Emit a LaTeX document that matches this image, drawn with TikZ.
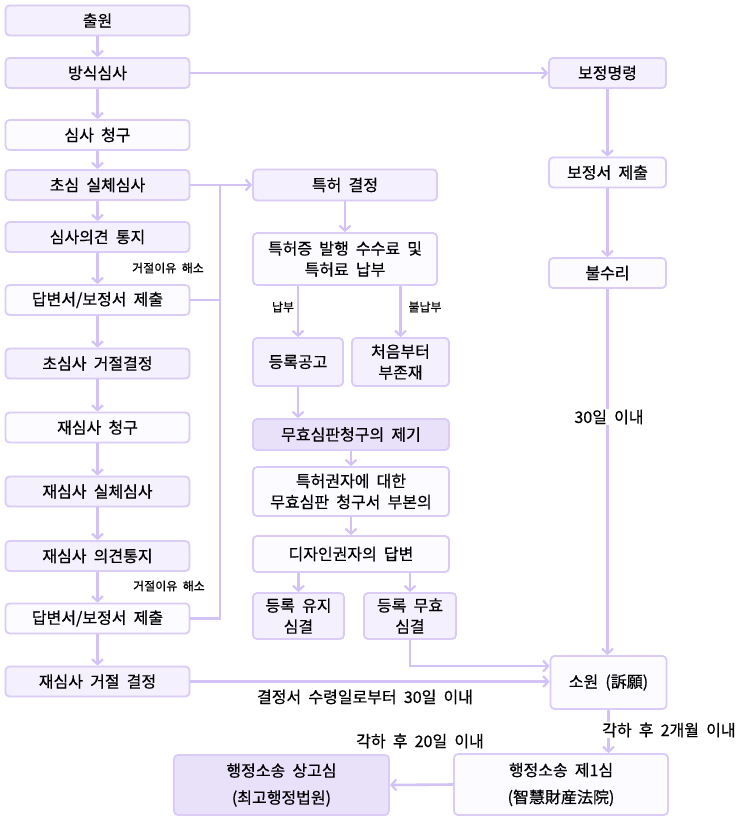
\documentclass[tikz,border=0pt]{standalone}
\usepackage{fontspec}
\setmainfont[WordSpace=2,FakeBold=0.5]{Noto Sans CJK KR}
\usetikzlibrary{arrows.meta}
\definecolor{bd}{HTML}{DACBF7}
\definecolor{lnc}{HTML}{D3C2F5}
\definecolor{fa}{HTML}{F4F0FD}
\definecolor{fw}{HTML}{FCFBFF}
\definecolor{fd}{HTML}{E9E0FA}
\begin{document}
\begin{tikzpicture}[x=1pt,y=-1pt,
  box/.style={draw=bd, line width=1.8pt, rounded corners=4pt, fill=fa, inner sep=0pt, align=center, font=\fontsize{16}{21}\selectfont, text=black},
  wbox/.style={box, fill=fw},
  dbox/.style={box, fill=fd},
  sz/.style 2 args={minimum width=#1pt, minimum height=#2pt},
  conn/.style={draw=lnc, line width=2.6pt},
  arr/.style={conn, -{Straight Barb[length=5pt,width=11pt,line width=2.2pt]}},
  lbl/.style={font=\fontsize{12}{14}\selectfont, inner sep=1pt},
  blbl/.style={font=\fontsize{16}{18}\selectfont, fill=white, inner sep=1pt}
]
\useasboundingbox[fill=white] (0,0) rectangle (746,824);

% left column
\node[box, sz={184}{30}] (chul) at (97.5,20.5) {출원};
\node[box, sz={184}{30}] (bang) at (97.5,73) {방식심사};
\node[wbox, sz={184}{30}] (cheong) at (97.5,135) {심사 청구};
\node[box, sz={184}{30}] (cho) at (97.5,185) {초심 실체심사};
\node[box, sz={184}{30}] (uigyeon) at (97.5,237) {심사의견 통지};
\node[wbox, sz={184}{30}] (dap1) at (97.5,300) {답변서/보정서 제출};
\node[box, sz={184}{30}] (geo1) at (97.5,363.5) {초심사 거절결정};
\node[wbox, sz={184}{30}] (jae) at (97.5,427.5) {재심사 청구};
\node[box, sz={184}{30}] (jaesil) at (97.5,491.5) {재심사 실체심사};
\node[box, sz={184}{30}] (jaeui) at (97.5,556) {재심사 의견통지};
\node[wbox, sz={184}{30}] (dap2) at (97.5,618.5) {답변서/보정서 제출};
\node[box, sz={184}{30}] (jaegeo) at (97.5,681.5) {재심사 거절 결정};

% middle column
\node[box, sz={184}{31}] (teuk) at (345,185) {특허 결정};
\node[wbox, sz={184}{52}] (jeung) at (345,259) {특허증 발행 수수료 및\\특허료 납부};
\node[box, sz={90}{48}] (deung) at (298,362) {등록공고};
\node[box, sz={97}{48}] (bujon) at (400.5,362) {처음부터\\부존재};
\node[dbox, sz={196}{31}] (muhyo) at (351,434.5) {무효심판청구의 제기};
\node[wbox, sz={196}{49}] (gwonja) at (351,491.5) {특허권자에 대한\\무효심판 청구서 부본의};
\node[wbox, sz={196}{36}] (dapbyeon) at (351,554) {디자인권자의 답변};
\node[box, sz={91}{46}] (yuji) at (298.5,616) {등록 유지\\심결};
\node[box, sz={92}{46}] (muhyosim) at (410,616) {등록 무효\\심결};

% right column
\node[box, sz={117}{30}] (bojeong) at (607.5,73) {보정명령};
\node[wbox, sz={117}{30}] (bojeongseo) at (607.5,172.5) {보정서 제출};
\node[wbox, sz={117}{30}] (bulsuri) at (607.5,273) {불수리};
\node[wbox, sz={116}{53}] (sowon) at (608.5,682.5) {소원 (訴願)};
\node[wbox, sz={214}{61}, font=\fontsize{16}{27}\selectfont] (il) at (561,784.5) {행정소송 제1심\\(智慧財産法院)};
\node[dbox, sz={215}{60}, font=\fontsize{16}{27}\selectfont] (sang) at (281.5,785) {행정소송 상고심\\(최고행정법원)};

\coordinate (jn) at (220,185);

% left arrows
\draw[arr] (chul) -- (bang);
\draw[arr] (bang) -- (cheong);
\draw[arr] (cheong) -- (cho);
\draw[arr] (cho) -- (uigyeon);
\draw[arr] (uigyeon) -- (dap1);
\draw[arr] (dap1) -- (geo1);
\draw[arr] (geo1) -- (jae);
\draw[arr] (jae) -- (jaesil);
\draw[arr] (jaesil) -- (jaeui);
\draw[arr] (jaeui) -- (dap2);
\draw[arr] (dap2) -- (jaegeo);
\node[lbl] (lb1) at (168,268) {거절이유 해소};
\node[lbl] (lb2) at (169,586) {거절이유 해소};

% connectors to the middle
\draw[arr] (bang.east) -- (bojeong.west);
\draw[arr] (cho.east) -- (teuk.west);
\draw[conn] (dap1.east) -- (dap1.east -| jn);
\draw[conn] (dap2.east) -| (jn);

% middle arrows
\draw[arr] (teuk) -- (jeung);
\draw[arr] (deung.north |- jeung.south) -- (deung.north);
\draw[arr] (bujon.north |- jeung.south) -- (bujon.north);
\node[lbl] (lbn) at (283,307) {납부};
\node[lbl] (lbb) at (425,307) {불납부};
\draw[arr] (deung.south) -- (deung.south |- muhyo.north);
\draw[arr] (muhyo) -- (gwonja);
\draw[arr] (gwonja) -- (dapbyeon);
\draw[arr] (yuji.north |- dapbyeon.south) -- (yuji.north);
\draw[arr] (muhyosim.north |- dapbyeon.south) -- (muhyosim.north);
\draw[arr] (muhyosim.south) |- ([yshift=16.5pt]sowon.west);
\draw[arr] (jaegeo.east) -- (jaegeo.east -| sowon.west);
\node[blbl] (lbk) at (365,697) {결정서 수령일로부터 30일 이내};

% right arrows
\draw[arr] (bojeong) -- (bojeongseo);
\draw[arr] (bojeongseo) -- (bulsuri);
\draw[arr] (bulsuri.south) -- (bulsuri.south |- sowon.north);
\node[blbl] (lb30) at (609,417) {30일 이내};
\draw[arr] (sowon.south) -- (sowon.south |- il.north);
\node[blbl, anchor=west] (lb2m) at (601,730) {각하 후 2개월 이내};
\draw[arr] (il.west) -- (sang.east);
\node[blbl, fill=none] (lb20) at (420,741) {각하 후 20일 이내};
\end{tikzpicture}
\end{document}
